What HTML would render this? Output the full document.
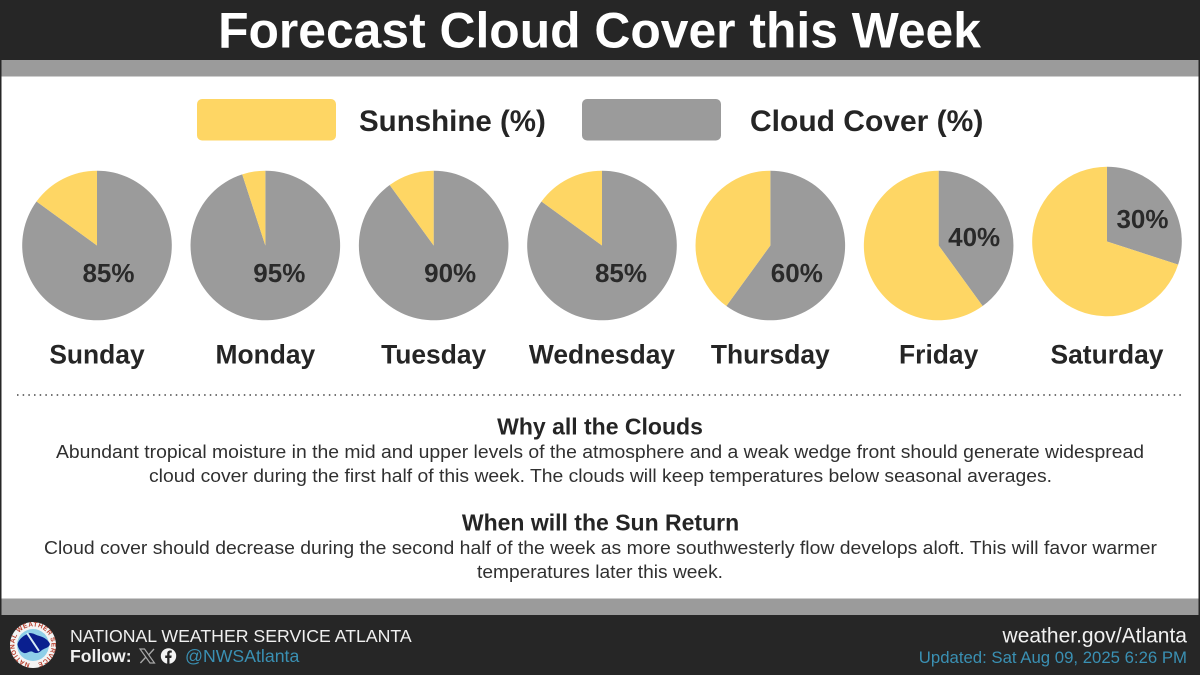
<!DOCTYPE html>
<html lang="en">
<head>
<meta charset="utf-8">
<title>Forecast Cloud Cover this Week</title>
<style>
html,body{margin:0;padding:0;background:#fff;}
svg{display:block;font-family:"Liberation Sans",Arial,sans-serif;}
</style>
</head>
<body>
<svg id="graphic" xmlns="http://www.w3.org/2000/svg" width="1200" height="675" viewBox="0 0 1200 675">
  <rect x="0" y="0" width="1200" height="675" fill="#262626"/>
  <rect x="1.5" y="76" width="1197" height="523" fill="#ffffff"/>
  <rect x="1.5" y="60" width="1197" height="16.5" fill="#9b9b9b"/>
  <rect x="1.5" y="598.5" width="1197" height="16.5" fill="#9b9b9b"/>

  <text x="599.5" y="47.5" text-anchor="middle" font-size="49.8" font-weight="700" fill="#ffffff">Forecast Cloud Cover this Week</text>

  <g>
    <rect x="197" y="99" width="139" height="41.5" rx="5" fill="#fed664"/>
    <text x="359" y="131" font-size="29.5" font-weight="700" fill="#252525">Sunshine (%)</text>
    <rect x="582" y="99" width="139" height="41.5" rx="5" fill="#9b9b9b"/>
    <text x="750" y="131" font-size="30" font-weight="700" fill="#252525">Cloud Cover (%)</text>
  </g>

  <g id="pies"></g>

  <line x1="17" y1="395" x2="1184" y2="395" stroke="#444444" stroke-width="1.5" stroke-dasharray="1.5 4.17"/>

  <g fill="#303030" text-anchor="middle">
    <text x="600" y="434.5" font-size="23" font-weight="700" fill="#252525">Why all the Clouds</text>
    <text x="600" y="458" font-size="18" textLength="1088" lengthAdjust="spacingAndGlyphs">Abundant tropical moisture in the mid and upper levels of the atmosphere and a weak wedge front should generate widespread</text>
    <text x="600.5" y="482" font-size="18" textLength="903" lengthAdjust="spacingAndGlyphs">cloud cover during the first half of this week. The clouds will keep temperatures below seasonal averages.</text>
    <text x="600.5" y="530.5" font-size="23" font-weight="700" fill="#252525">When will the Sun Return</text>
    <text x="600.5" y="554" font-size="18" textLength="1113" lengthAdjust="spacingAndGlyphs">Cloud cover should decrease during the second half of the week as more southwesterly flow develops aloft. This will favor warmer</text>
    <text x="600" y="578" font-size="18" textLength="246" lengthAdjust="spacingAndGlyphs">temperatures later this week.</text>
  </g>

  <g>
    <circle cx="33" cy="645" r="23" fill="#f4f4f4"/>
    <defs><path id="logo-ring" d="M33 663.5a18.5 18.500 0 1 1 .01 0"/></defs>
    <text font-size="6.500" font-weight="700" fill="#b8402f"><textPath href="#logo-ring" startOffset="3" textLength="108">NATIONAL WEATHER SERVICE</textPath></text>
    <circle cx="33" cy="645" r="16" fill="#8fcfe8"/>
    <path d="M17.500 644c2-6 7-9 12-11 4 0 6 2 10 3 4 1 9 4 10.500 8-1 4-5 4-8 6-3 3-6 4-9 2-3-2-6 2-9 1-3-1-6-4-6.500-9z" fill="#0a1f8f"/>
    <path d="M27 633l12 18" stroke="#d8ecf7" stroke-width="2" fill="none"/>
  </g>

  <text x="70" y="642" font-size="17.700" fill="#f0f0f0">NATIONAL WEATHER SERVICE ATLANTA</text>
  <text x="70" y="662" font-size="17.600" font-weight="700" fill="#f0f0f0">Follow:</text>
  <g transform="translate(140 649)">
    <path d="M0 0h4.500l10 14h-4.500z" fill="none" stroke="#a8a8a8" stroke-width="1.200"/>
    <path d="M14 0l-5.600 6.200M5.800 8.200L.4 14" stroke="#a8a8a8" stroke-width="1.400" fill="none"/>
  </g>
  <g>
    <circle cx="168.500" cy="656" r="7.700" fill="#f4f4f4"/>
    <path d="M167.200 664v-6h-2v-2.500h2v-1.900c0-2 1.200-3.100 3-3.100.9 0 1.600.1 1.600.1v2h-1c-1 0-1.300.6-1.300 1.200v1.700h2.200l-.4 2.500h-1.800v6z" fill="#262626"/>
  </g>
  <text x="185" y="662" font-size="17.700" fill="#3a90b3">@NWSAtlanta</text>
  <text x="1187" y="642.500" text-anchor="end" font-size="21" fill="#f0f0f0">weather.gov/Atlanta</text>
  <text x="1187" y="663" text-anchor="end" font-size="16.750" fill="#3a90b3">Updated: Sat Aug 09, 2025 6:26 PM</text>
</svg>

<script>
const days = ["Sunday", "Monday", "Tuesday", "Wednesday", "Thursday", "Friday", "Saturday"];
const cloudCover = [85, 95, 90, 85, 60, 40, 30];

const SVG_NS = "http://www.w3.org/2000/svg";
const pieGroup = document.getElementById("pies");
const GRAY = "#9b9b9b";
const YELLOW = "#fed664";
const INK = "#2a2a2a";
const RADIUS = 74.8;

function centerX(i) { return 97 + i * 168.33; }
function centerY(i) { return i === days.length - 1 ? 241.5 : 245.5; }
function angleOf(pct) { return pct / 100 * 2 * Math.PI; }
function pointAt(cx, cy, pct) {
  const a = angleOf(pct);
  return [cx + RADIUS * Math.sin(a), cy - RADIUS * Math.cos(a)];
}
function slicePath(cx, cy, fromPct, toPct) {
  const span = Math.min(toPct - fromPct, 99.999);
  const s = pointAt(cx, cy, fromPct);
  const e = pointAt(cx, cy, fromPct + span);
  const large = span > 50 ? 1 : 0;
  return "M" + cx + " " + cy + "L" + s[0] + " " + s[1] + "A" + RADIUS + " " + RADIUS + " 0 " + large + " 1 " + e[0] + " " + e[1] + "Z";
}
function labelDx(i, v) {
  if (v < 50) return 35.5;
  return 11.5 + 2.5 * i + Math.max(0, 85 - v) * 0.2;
}
function labelDy(v) {
  if (v < 50) return 0.5 + (v - 40) * 1.4;
  return 36.5;
}

days.forEach(function (day, i) {
  const v = cloudCover[i];
  const cx = centerX(i);
  const cy = centerY(i);

  const cloud = document.createElementNS(SVG_NS, "path");
  cloud.setAttribute("d", slicePath(cx, cy, 0, v));
  cloud.setAttribute("fill", GRAY);
  
  
  pieGroup.appendChild(cloud);

  const sun = document.createElementNS(SVG_NS, "path");
  sun.setAttribute("d", slicePath(cx, cy, v, 100));
  sun.setAttribute("fill", YELLOW);
  
  
  pieGroup.appendChild(sun);

  const pct = document.createElementNS(SVG_NS, "text");
  pct.setAttribute("x", cx + labelDx(i, v));
  pct.setAttribute("y", cy + labelDy(v));
  pct.setAttribute("text-anchor", "middle");
  pct.setAttribute("font-size", "26");
  pct.setAttribute("font-weight", "700");
  pct.setAttribute("fill", INK);
  pct.textContent = v + "%";
  
  
  pieGroup.appendChild(pct);

  const name = document.createElementNS(SVG_NS, "text");
  name.setAttribute("x", cx);
  name.setAttribute("y", 363.5);
  name.setAttribute("text-anchor", "middle");
  name.setAttribute("font-size", "26.400");
  name.setAttribute("font-weight", "700");
  name.setAttribute("fill", "#252525");
  name.textContent = day;
  
  
  pieGroup.appendChild(name);
});
</script>
</body>
</html>
